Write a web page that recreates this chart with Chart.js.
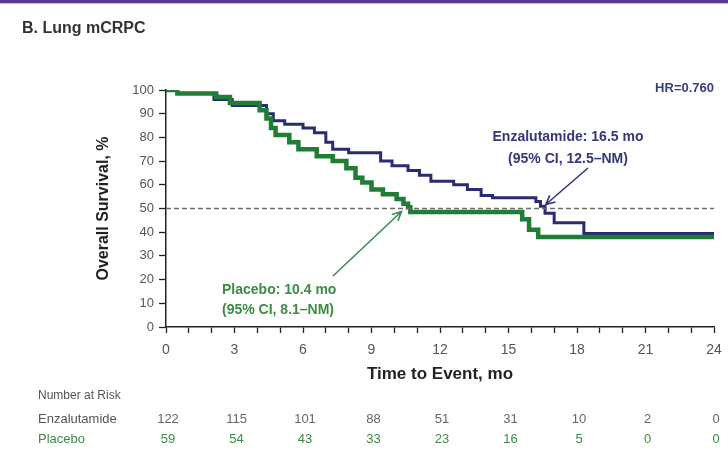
<!DOCTYPE html>
<html>
<head>
<meta charset="utf-8">
<script src="https://cdn.jsdelivr.net/npm/chart.js@4.4.1/dist/chart.umd.min.js"></script>
<style>
  html, body { margin: 0; padding: 0; background: #ffffff; }
  #wrap { width: 728px; height: 455px; position: relative; }
</style>
</head>
<body>
<div id="wrap"><canvas id="kmChart" width="728" height="455"></canvas></div>
<script>
// Kaplan-Meier steps: [months, survival %]
const enzaSteps = [
  [0, 100], [0.5, 98.5], [2.1, 96], [2.9, 93.5], [4.4, 90], [4.7, 87],
  [5.2, 85.5], [6.0, 84], [6.5, 82], [7.0, 78], [7.3, 75], [8.0, 73.5],
  [9.4, 70], [9.9, 68], [10.6, 66], [11.1, 64], [11.6, 61.5], [12.6, 60],
  [13.2, 58], [13.8, 55.5], [14.3, 54.5], [16.2, 53], [16.4, 51], [16.6, 48],
  [17.0, 44], [18.3, 39.5], [24, 39.5]
];
const placeboSteps = [
  [0, 100], [0.5, 98.5], [2.2, 97], [2.8, 94.5], [4.1, 91.5], [4.4, 88],
  [4.6, 84], [4.8, 81], [5.4, 78], [5.8, 75], [6.6, 72], [7.3, 70],
  [7.9, 67], [8.3, 63], [8.6, 61], [9.0, 58], [9.5, 56], [10.1, 54],
  [10.4, 52], [10.6, 50.5], [10.7, 48.5], [15.4, 48.5], [15.6, 45.5],
  [15.9, 41], [16.3, 38], [24, 38]
];
const medianLine = [[0, 50], [24, 50]];

const enzaMedian = 16.5;
const placeboMedian = 10.4;

const riskTimes = [0, 3, 6, 9, 12, 15, 18, 21, 24];
const riskEnza = [122, 115, 101, 88, 51, 31, 10, 2, 0];
const riskPlacebo = [59, 54, 43, 33, 23, 16, 5, 0, 0];

const NAVY = "#2b2b73";
const GREEN = "#1f7d35";
const GREEN_TEXT = "#3b8c45";
const AXIS = "#222222";

const toXY = (arr) => arr.map(([x, y]) => ({ x, y }));

// Texto adicional: título, HR, medianas con flechas y tabla de pacientes en riesgo
const extrasPlugin = {
  id: "extras",
  afterDraw(chart) {
    const { ctx } = chart;
    const xs = chart.scales.x;
    const ys = chart.scales.y;
    ctx.save();

    // barra superior
    ctx.fillStyle = "#5a3a8e";
    ctx.fillRect(0, 0, 728, 3);
    ctx.fillStyle = "#c9b8e0";
    ctx.fillRect(0, 3, 728, 1);

    ctx.textBaseline = "middle";
    ctx.fillStyle = "#333333";
    ctx.font = "bold 16px 'Liberation Sans', Arial, sans-serif";
    ctx.textAlign = "left";
    ctx.fillText("B. Lung mCRPC", 22, 29);

    ctx.fillStyle = "#3a3d7c";
    ctx.font = "bold 13px 'Liberation Sans', Arial, sans-serif";
    ctx.textAlign = "right";
    ctx.fillText("HR=0.760", 714, 88);

    // mediana Enzalutamide
    ctx.textAlign = "center";
    ctx.font = "bold 14px 'Liberation Sans', Arial, sans-serif";
    ctx.fillStyle = "#34377a";
    ctx.fillText("Enzalutamide: 16.5 mo", 568, 137);
    ctx.fillText("(95% CI, 12.5\u2013NM)", 568, 159);
    drawArrow(ctx, 588, 168, xs.getPixelForValue(enzaMedian) + 3, ys.getPixelForValue(50) - 4, "#34377a");

    // mediana Placebo
    ctx.textAlign = "left";
    ctx.fillStyle = GREEN_TEXT;
    ctx.fillText("Placebo: 10.4 mo", 222, 290);
    ctx.fillText("(95% CI, 8.1\u2013NM)", 222, 310);
    drawArrow(ctx, 333, 276, xs.getPixelForValue(placeboMedian) - 2, ys.getPixelForValue(50) + 3, "#3f8a55");

    // tabla de riesgo
    ctx.font = "12px 'Liberation Sans', Arial, sans-serif";
    ctx.fillStyle = "#555555";
    ctx.fillText("Number at Risk", 38, 396);
    ctx.font = "13px 'Liberation Sans', Arial, sans-serif";
    ctx.fillText("Enzalutamide", 38, 419);
    ctx.fillStyle = GREEN_TEXT;
    ctx.fillText("Placebo", 38, 439);

    ctx.textAlign = "center";
    riskTimes.forEach((t, i) => {
      const px = xs.getPixelForValue(t) + 2;
      ctx.fillStyle = "#666666";
      ctx.fillText(String(riskEnza[i]), px, 419);
      ctx.fillStyle = GREEN_TEXT;
      ctx.fillText(String(riskPlacebo[i]), px, 439);
    });

    ctx.restore();
  },
};

function drawArrow(ctx, x1, y1, x2, y2, color) {
  const ang = Math.atan2(y2 - y1, x2 - x1);
  const head = 10;
  ctx.save();
  ctx.strokeStyle = color;
  ctx.lineWidth = 1.6;
  ctx.beginPath();
  ctx.moveTo(x1, y1);
  ctx.lineTo(x2, y2);
  ctx.moveTo(x2 - head * Math.cos(ang - 0.45), y2 - head * Math.sin(ang - 0.45));
  ctx.lineTo(x2, y2);
  ctx.lineTo(x2 - head * Math.cos(ang + 0.45), y2 - head * Math.sin(ang + 0.45));
  ctx.stroke();
  ctx.restore();
}

const ctx = document.getElementById("kmChart").getContext("2d");

new Chart(ctx, {
  type: "line",
  data: {
    datasets: [
      {
        label: "Median",
        data: toXY(medianLine),
        borderColor: "#6e6e6e",
        borderWidth: 1.5,
        borderDash: [5, 3],
        pointRadius: 0,
        order: 0,
      },
      {
        label: "Placebo",
        data: toXY(placeboSteps),
        borderColor: GREEN,
        borderWidth: 4.5,
        stepped: true,
        pointRadius: 0,
        order: 1,
      },
      {
        label: "Enzalutamide",
        data: toXY(enzaSteps),
        borderColor: NAVY,
        borderWidth: 3,
        stepped: true,
        pointRadius: 0,
        order: 2,
      },
    ],
  },
  options: {
    responsive: false,
    animation: false,
    layout: {
      padding: { left: 94, top: 90, right: 14, bottom: 68 },
    },
    plugins: {
      legend: { display: false },
      tooltip: { enabled: false },
    },
    scales: {
      x: {
        type: "linear",
        min: 0,
        max: 24,
        afterFit: (scale) => {
          scale.height = 60;
          scale.paddingLeft = 0;
          scale.paddingRight = 0;
        },
        border: { color: AXIS, width: 1.5 },
        grid: {
          drawOnChartArea: false,
          drawTicks: true,
          tickLength: 6,
          tickColor: AXIS,
          tickWidth: 1.3,
        },
        ticks: {
          stepSize: 1,
          autoSkip: false,
          maxRotation: 0,
          padding: 9,
          color: "#555555",
          font: { family: "'Liberation Sans', Arial, sans-serif", size: 14 },
          callback: (v) => (v % 3 === 0 ? String(v) : ""),
        },
        title: {
          display: true,
          text: "Time to Event, mo",
          color: "#222222",
          padding: { top: 0, bottom: 2 },
          font: { family: "'Liberation Sans', Arial, sans-serif", size: 17, weight: "bold" },
        },
      },
      y: {
        min: 0,
        max: 100,
        afterFit: (scale) => { scale.width = 72; },
        border: { color: AXIS, width: 1.5 },
        grid: {
          drawOnChartArea: false,
          drawTicks: true,
          tickLength: 7,
          tickColor: AXIS,
          tickWidth: 1.3,
        },
        ticks: {
          stepSize: 10,
          padding: 5,
          color: "#555555",
          font: { family: "'Liberation Sans', Arial, sans-serif", size: 13 },
        },
        title: {
          display: true,
          text: "Overall Survival, %",
          color: "#222222",
          padding: { top: 0, bottom: 0 },
          font: { family: "'Liberation Sans', Arial, sans-serif", size: 16, weight: "bold" },
        },
      },
    },
  },
  plugins: [extrasPlugin],
});
</script>
</body>
</html>
